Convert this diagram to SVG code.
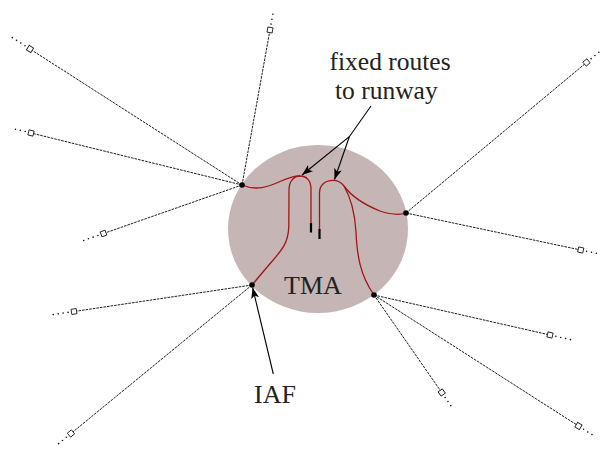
<svg xmlns="http://www.w3.org/2000/svg" width="603" height="451" viewBox="0 0 603 451">
  <style>
    .leg { stroke: #111; stroke-width: 0.95; stroke-dasharray: 2.6 1; fill: none; }
    .tail { stroke: #111; stroke-width: 1.6; stroke-linecap: round; stroke-dasharray: 0 5; fill: none; }
    .wp { fill: #fff; stroke: #222; stroke-width: 0.9; }
    .route { stroke: #a31515; stroke-width: 1.3; fill: none; }
    .rwy { stroke: #000; stroke-width: 2.2; }
    .iaf { fill: #000; }
    .ptr { stroke: #000; stroke-width: 1.1; fill: none; marker-end: url(#head); }
    .lbl { font-family: "Liberation Serif", "Times New Roman", serif; font-size: 26px; fill: #222; }
    .lbl.small { font-size: 25.5px; }
  </style>
  <defs>
    <marker id="head" viewBox="0 0 11 8" refX="11" refY="4" markerWidth="11" markerHeight="8" markerUnits="userSpaceOnUse" orient="auto">
      <path d="M0,0 L11,4 L0,8 L2.8,4 z" fill="#000"/>
    </marker>
    <rect id="sq" x="-2.6" y="-2.6" width="5.2" height="5.2" class="wp"/>
  </defs>

  <!-- terminal manoeuvring area -->
  <g id="tma">
    <ellipse cx="318" cy="229" rx="90" ry="84" fill="#c5b5b5"/>
    <text class="lbl" x="284" y="294">TMA</text>
  </g>

  <!-- inbound legs, their waypoints and dotted continuations -->
  <g id="connectors">
    <line class="leg" x1="242" y1="185" x2="270" y2="30"/>
    <line class="leg" x1="242" y1="185" x2="30" y2="49"/>
    <line class="leg" x1="242" y1="185" x2="31" y2="133"/>
    <line class="leg" x1="242" y1="185" x2="103.5" y2="233.5"/>
    <line class="leg" x1="406" y1="213" x2="586.5" y2="62.5"/>
    <line class="leg" x1="406" y1="213" x2="580.7" y2="250"/>
    <line class="leg" x1="252" y1="285" x2="74" y2="311.5"/>
    <line class="leg" x1="252" y1="285" x2="71" y2="433.5"/>
    <line class="leg" x1="374" y1="295" x2="550" y2="335"/>
    <line class="leg" x1="374" y1="295" x2="578.5" y2="426"/>
    <line class="leg" x1="374" y1="295" x2="441.7" y2="392.5"/>

    <line class="tail" x1="271.07" y1="24.1" x2="273.74" y2="9.34"/>
    <line class="tail" x1="24.95" y1="45.76" x2="12.32" y2="37.66"/>
    <line class="tail" x1="25.17" y1="131.57" x2="10.61" y2="127.98"/>
    <line class="tail" x1="97.84" y1="235.48" x2="83.68" y2="240.43"/>
    <line class="tail" x1="591.1" y1="58.65" x2="602.6" y2="49.04"/>
    <line class="tail" x1="586.57" y1="251.24" x2="601.24" y2="254.35"/>
    <line class="tail" x1="68.07" y1="312.38" x2="53.23" y2="314.59"/>
    <line class="tail" x1="66.36" y1="437.3" x2="54.77" y2="446.81"/>
    <line class="tail" x1="555.85" y1="336.33" x2="570.48" y2="339.66"/>
    <line class="tail" x1="583.55" y1="429.23" x2="596.18" y2="437.32"/>
    <line class="tail" x1="445.12" y1="397.43" x2="453.67" y2="409.74"/>

    <!-- fixed routes inside the TMA -->
    <path class="route" d="M242,185 C256,191 268,187 280,181.5 C289,177.5 295,176 300,176"/>
    <path class="route" d="M252,285 L268,266 C281,251 288.5,244 288.8,226 L289,190 C289,181 294,176 300,176 C306,176 311,180 311,189 L311,224"/>
    <path class="route" d="M319.5,230 L319.5,193 C319.5,185 325,180.3 333,180.3 C338,180.3 341,182 344,186"/>
    <path class="route" d="M344,186 C352,197 365,205 380,211 C392,215 400,215 406,213"/>
    <path class="route" d="M344,186 C351,198 355,215 356,232 C357,255 360,275 374,295"/>
    <line class="rwy" x1="311" y1="223" x2="311" y2="232.5"/>
    <line class="rwy" x1="319.5" y1="229" x2="319.5" y2="239"/>

    <!-- label pointers -->
    <path class="ptr" d="M371,106 L349.3,136.7 L302,175"/>
    <path class="ptr" d="M349.3,136.7 L334.5,179.5"/>
    <path class="ptr" d="M273.3,374 L252.6,287.5"/>
  </g>

  <g id="waypoints">
    <use href="#sq" transform="translate(270,30) rotate(-79.8)"/>
    <use href="#sq" transform="translate(30,49) rotate(-147.3)"/>
    <use href="#sq" transform="translate(31,133) rotate(-166.2)"/>
    <use href="#sq" transform="translate(103.5,233.5) rotate(160.7)"/>
    <use href="#sq" transform="translate(586.5,62.5) rotate(-39.9)"/>
    <use href="#sq" transform="translate(580.7,250) rotate(12)"/>
    <use href="#sq" transform="translate(74,311.5) rotate(171.5)"/>
    <use href="#sq" transform="translate(71,433.5) rotate(140.6)"/>
    <use href="#sq" transform="translate(550,335) rotate(12.8)"/>
    <use href="#sq" transform="translate(578.5,426) rotate(32.6)"/>
    <use href="#sq" transform="translate(441.7,392.5) rotate(55.2)"/>
  </g>

  <g id="iaf-points">
    <circle class="iaf" cx="242" cy="185" r="2.8"/>
    <circle class="iaf" cx="406" cy="213" r="2.8"/>
    <circle class="iaf" cx="252" cy="285" r="2.8"/>
    <circle class="iaf" cx="374" cy="295" r="2.8"/>
  </g>

  <g id="label-routes">
    <text class="lbl small" x="329.5" y="70">fixed routes</text>
    <text class="lbl small" x="335" y="98.5">to runway</text>
  </g>
  <g id="label-iaf">
    <text class="lbl" x="254" y="403">IAF</text>
  </g>
</svg>
